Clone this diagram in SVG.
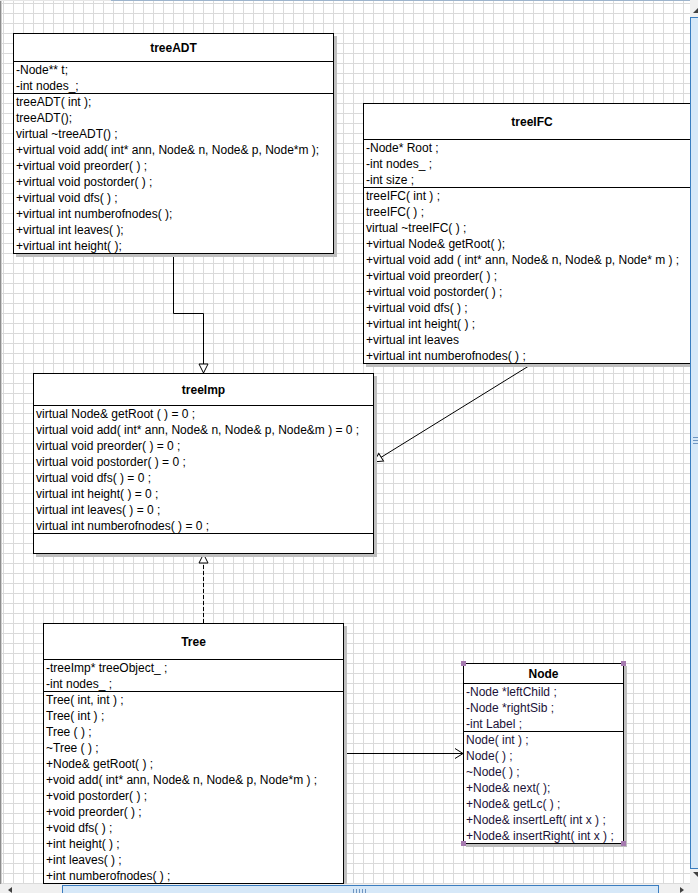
<svg xmlns="http://www.w3.org/2000/svg" width="698" height="893" viewBox="0 0 698 893">
  <style>
    .t { font-family: "Liberation Sans", Arial, sans-serif; font-size: 12px; fill: #000; }
    .h { font-weight: bold; text-anchor: middle; }
    .nt { fill: #1a1238; }
    .box { fill: #fff; stroke: #000; stroke-width: 1; }
    .sh { fill: #bfbfbf; }
    .dv { stroke: #000; stroke-width: 1; fill: none; }
    .hd { fill: #a67bb0; }
    .ln { fill: none; stroke: #000; stroke-width: 1; }
    .dash { stroke-dasharray: 4 2; }
    .sbar { fill: #f0f0f0; }
    .thumb { fill: #d6e8f8; stroke: #3a7dc0; stroke-width: 1; }
    .grip { stroke: #6f96c2; stroke-width: 1; }
    .arw { fill: #404040; }
  </style>
  <defs>
    <pattern id="grid" x="3" y="3" width="10" height="10" patternUnits="userSpaceOnUse">
      <path d="M0 0.5H10M0.5 0V10" fill="none" stroke="#dadada" stroke-width="1"/>
    </pattern>
    <!-- hollow triangle: generalization / realization -->
    <marker id="tri" viewBox="0 0 10 10" refX="9" refY="5" markerWidth="10" markerHeight="10"
            markerUnits="userSpaceOnUse" orient="auto" overflow="visible">
      <path d="M0 0.5 L9 5 L0 9.5 Z" fill="#fff" stroke="#000" stroke-width="1"/>
    </marker>
    <!-- open arrow: association -->
    <marker id="open" viewBox="0 0 10 10" refX="9" refY="5" markerWidth="10" markerHeight="10"
            markerUnits="userSpaceOnUse" orient="auto" overflow="visible">
      <path d="M1 0 L9 5 L1 10" fill="none" stroke="#000" stroke-width="1"/>
    </marker>
  </defs>

  <!-- canvas -->
  <rect x="0" y="0" width="698" height="893" fill="#fff"/>
  <rect x="0" y="0" width="698" height="893" fill="url(#grid)"/>
  <rect x="0" y="0" width="1" height="884" fill="#8c8c8c"/>
  <rect x="1" y="0" width="1" height="884" fill="#cfcfcf"/>
  <rect x="0" y="0" width="111" height="1" fill="#e6e6e6"/>
  <rect x="111" y="0" width="579" height="1" fill="#9db4cc"/>

  <!-- connectors -->
  <g id="connectors">
    <polyline class="ln" points="173.5,254 173.5,313.5 203.5,313.5 203.5,373" marker-end="url(#tri)"/>
    <line class="ln" x1="532" y1="364" x2="373.5" y2="462" marker-end="url(#tri)"/>
    <line class="ln dash" x1="203.5" y1="623" x2="203.5" y2="554" marker-end="url(#tri)"/>
    <line class="ln" x1="344" y1="753.5" x2="463" y2="753.5" marker-end="url(#open)"/>
  </g>

  <!-- treeADT -->
  <g id="treeADT">
    <rect class="sh" x="16" y="36" width="321" height="221"/>
    <rect class="box" x="13.5" y="33.5" width="320" height="220"/>
    <path class="dv" d="M13.5 61.5H333.5M13.5 93.5H333.5"/>
    <text class="t h" x="173.5" y="52">treeADT</text>
    <text class="t" x="16" y="74">-Node** t;</text>
    <text class="t" x="16" y="90">-int nodes_;</text>
    <text class="t" x="16" y="106">treeADT( int );</text>
    <text class="t" x="16" y="122">treeADT();</text>
    <text class="t" x="16" y="138">virtual ~treeADT() ;</text>
    <text class="t" x="16" y="154">+virtual void add( int* ann, Node&amp; n, Node&amp; p, Node*m );</text>
    <text class="t" x="16" y="170">+virtual void preorder( ) ;</text>
    <text class="t" x="16" y="186">+virtual void postorder( ) ;</text>
    <text class="t" x="16" y="202">+virtual void dfs( ) ;</text>
    <text class="t" x="16" y="218">+virtual int numberofnodes( );</text>
    <text class="t" x="16" y="234">+virtual int leaves( );</text>
    <text class="t" x="16" y="250">+virtual int height( );</text>
  </g>

  <!-- treeIFC -->
  <g id="treeIFC">
    <rect class="sh" x="366" y="106" width="341" height="261"/>
    <rect class="box" x="363.5" y="103.5" width="340" height="260"/>
    <path class="dv" d="M363.5 139.5H703.5M363.5 187.5H703.5"/>
    <text class="t h" x="532" y="126">treeIFC</text>
    <text class="t" x="366" y="152">-Node* Root ;</text>
    <text class="t" x="366" y="168">-int nodes_ ;</text>
    <text class="t" x="366" y="184">-int size ;</text>
    <text class="t" x="366" y="200">treeIFC( int ) ;</text>
    <text class="t" x="366" y="216">treeIFC( ) ;</text>
    <text class="t" x="366" y="232">virtual ~treeIFC( ) ;</text>
    <text class="t" x="366" y="248">+virtual Node&amp; getRoot( );</text>
    <text class="t" x="366" y="264">+virtual void add ( int* ann, Node&amp; n, Node&amp; p, Node* m ) ;</text>
    <text class="t" x="366" y="280">+virtual void preorder( ) ;</text>
    <text class="t" x="366" y="296">+virtual void postorder( ) ;</text>
    <text class="t" x="366" y="312">+virtual void dfs( ) ;</text>
    <text class="t" x="366" y="328">+virtual int height( ) ;</text>
    <text class="t" x="366" y="344">+virtual int leaves</text>
    <text class="t" x="366" y="360">+virtual int numberofnodes( ) ;</text>
  </g>

  <!-- treeImp -->
  <g id="treeImp">
    <rect class="sh" x="36" y="376" width="341" height="181"/>
    <rect class="box" x="33.5" y="373.5" width="340" height="180"/>
    <path class="dv" d="M33.5 405.5H373.5M33.5 533.5H373.5"/>
    <text class="t h" x="203.5" y="394">treeImp</text>
    <text class="t" x="36" y="418">virtual Node&amp; getRoot ( ) = 0 ;</text>
    <text class="t" x="36" y="434">virtual void add( int* ann, Node&amp; n, Node&amp; p, Node&amp;m ) = 0 ;</text>
    <text class="t" x="36" y="450">virtual void preorder( ) = 0 ;</text>
    <text class="t" x="36" y="466">virtual void postorder( ) = 0 ;</text>
    <text class="t" x="36" y="482">virtual void dfs( ) = 0 ;</text>
    <text class="t" x="36" y="498">virtual int height( ) = 0 ;</text>
    <text class="t" x="36" y="514">virtual int leaves( ) = 0 ;</text>
    <text class="t" x="36" y="530">virtual int numberofnodes( ) = 0 ;</text>
  </g>

  <!-- Tree -->
  <g id="Tree">
    <rect class="sh" x="46" y="626" width="301" height="261"/>
    <rect class="box" x="43.5" y="623.5" width="300" height="260"/>
    <path class="dv" d="M43.5 659.5H343.5M43.5 691.5H343.5"/>
    <text class="t h" x="193.5" y="645.5">Tree</text>
    <text class="t" x="46" y="672">-treeImp* treeObject_ ;</text>
    <text class="t" x="46" y="688">-int nodes_ ;</text>
    <text class="t" x="46" y="704">Tree( int, int ) ;</text>
    <text class="t" x="46" y="720">Tree( int ) ;</text>
    <text class="t" x="46" y="736">Tree ( ) ;</text>
    <text class="t" x="46" y="752">~Tree ( ) ;</text>
    <text class="t" x="46" y="768">+Node&amp; getRoot( ) ;</text>
    <text class="t" x="46" y="784">+void add( int* ann, Node&amp; n, Node&amp; p, Node*m ) ;</text>
    <text class="t" x="46" y="800">+void postorder( ) ;</text>
    <text class="t" x="46" y="816">+void preorder( ) ;</text>
    <text class="t" x="46" y="832">+void dfs( ) ;</text>
    <text class="t" x="46" y="848">+int height( ) ;</text>
    <text class="t" x="46" y="864">+int leaves( ) ;</text>
    <text class="t" x="46" y="880">+int numberofnodes( ) ;</text>
  </g>

  <!-- Node (selected) -->
  <g id="Node">
    <rect class="sh" x="466" y="666" width="161" height="181"/>
    <rect class="box" x="463.5" y="663.5" width="160" height="180"/>
    <path class="dv" d="M463.5 683.5H623.5M463.5 731.5H623.5"/>
    <text class="t h" x="543.5" y="677.5">Node</text>
    <text class="t nt" x="466" y="696">-Node *leftChild ;</text>
    <text class="t nt" x="466" y="712">-Node *rightSib ;</text>
    <text class="t nt" x="466" y="728">-int Label ;</text>
    <text class="t nt" x="466" y="744">Node( int ) ;</text>
    <text class="t nt" x="466" y="760">Node( ) ;</text>
    <text class="t nt" x="466" y="776">~Node( ) ;</text>
    <text class="t nt" x="466" y="792">+Node&amp; next( );</text>
    <text class="t nt" x="466" y="808">+Node&amp; getLc( ) ;</text>
    <text class="t nt" x="466" y="824">+Node&amp; insertLeft( int x ) ;</text>
    <text class="t nt" x="466" y="840">+Node&amp; insertRight( int x ) ;</text>
    <rect class="hd" x="461" y="661" width="5" height="5"/>
    <rect class="hd" x="621" y="661" width="5" height="5"/>
    <rect class="hd" x="461" y="841" width="5" height="5"/>
    <rect class="hd" x="621" y="841" width="5" height="5"/>
  </g>

  <!-- vertical scrollbar -->
  <rect class="sbar" x="690" y="0" width="8" height="893"/>
  <path class="arw" d="M693 13H698V8Z"/>
  <rect class="thumb" x="690.5" y="17.5" width="9" height="851"/>
  <path class="grip" d="M693 437.5H698M693 440.5H698M693 443.5H698"/>
  <path class="arw" d="M693 872H698V877Z"/>

  <!-- horizontal scrollbar -->
  <rect class="sbar" x="0" y="884" width="698" height="9"/>
  <path class="arw" d="M12 887V893L8 890Z"/>
  <rect class="thumb" x="62.5" y="885.5" width="596" height="9"/>
  <path class="grip" d="M353.5 889V893M356.5 889V893M359.5 889V893M362.5 889V893M365.5 889V893"/>
  <path class="arw" d="M680 887V893L684 890Z"/>
</svg>
